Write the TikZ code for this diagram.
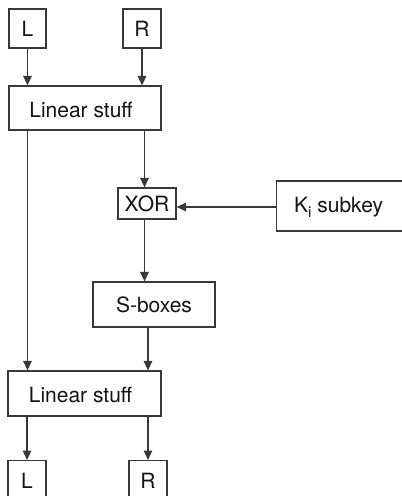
\documentclass[tikz,border=0pt]{standalone}
\usepackage{fontspec}
\setmainfont{TeX Gyre Heros}
\usetikzlibrary{arrows.meta,calc}
\begin{document}
\begin{tikzpicture}[x=1pt,y=-1pt,
  lbl/.style={font=\fontsize{21}{24}\selectfont,text=black!92,inner sep=0pt},
  box/.style={draw=black!78,line width=1.2pt,inner sep=0pt,lbl},
  conn/.style={draw=black!78,line width=1.2pt,-{Triangle[width=8.5pt,length=9.5pt]}}]
\useasboundingbox (0,0) rectangle (402,496);
\node[box,minimum width=37pt,minimum height=39pt] (L1) at (27.5,28.5) {L};
\node[box,minimum width=38pt,minimum height=39pt] (R1) at (142,28.5) {R};
\node[box,minimum width=152pt,minimum height=44pt] (lin1) at (85,108) {};
\node[lbl] (lin1t) at (81,110) {Linear stuff};
\node[box,minimum width=58pt,minimum height=31pt] (xor) at (147,203.5) {XOR};
\node[box,minimum width=140pt,minimum height=50pt,anchor=west] (key) at (276,206) {};
\node[lbl,anchor=west] (keytext) at (294,207) {K\raisebox{-5pt}{\fontsize{15}{16}\selectfont i} subkey};
\node[box,minimum width=122pt,minimum height=45pt] (sbox) at (154,304.5) {S-boxes};
\node[box,minimum width=153pt,minimum height=45pt] (lin2) at (84.5,393.5) {};
\node[lbl] (lin2t) at (80.5,395) {Linear stuff};
\node[box,minimum width=38pt,minimum height=60pt,anchor=north] (L2) at (27,460) {};
\node[box,minimum width=38pt,minimum height=60pt,anchor=north] (R2) at (148,460) {};
\node[lbl] (L2t) at (27,481) {L};
\node[lbl] (R2t) at (148,481) {R};
\draw[conn] (L1.south) -- (L1.south |- lin1.north);
\draw[conn] (R1.south) -- (R1.south |- lin1.north);
\draw[conn] ($(lin1.south -| xor.north)+(-2.5,0)$) -- ($(xor.north)+(-2.5,0)$);
\draw[conn] (key.west |- 0,207) -- (xor.east |- 0,207);
\draw[conn] ($(xor.south)+(-2.5,0)$) -- ($(xor.south |- sbox.north)+(-2.5,0)$);
\draw[conn] (L1.south |- lin1.south) -- (L1.south |- lin2.north);
\draw[conn] (sbox.south -| R2.north) -- (R2.north |- lin2.north);
\draw[conn] (L2.north |- lin2.south) -- (L2.north);
\draw[conn] (R2.north |- lin2.south) -- (R2.north);
\end{tikzpicture}
\end{document}
